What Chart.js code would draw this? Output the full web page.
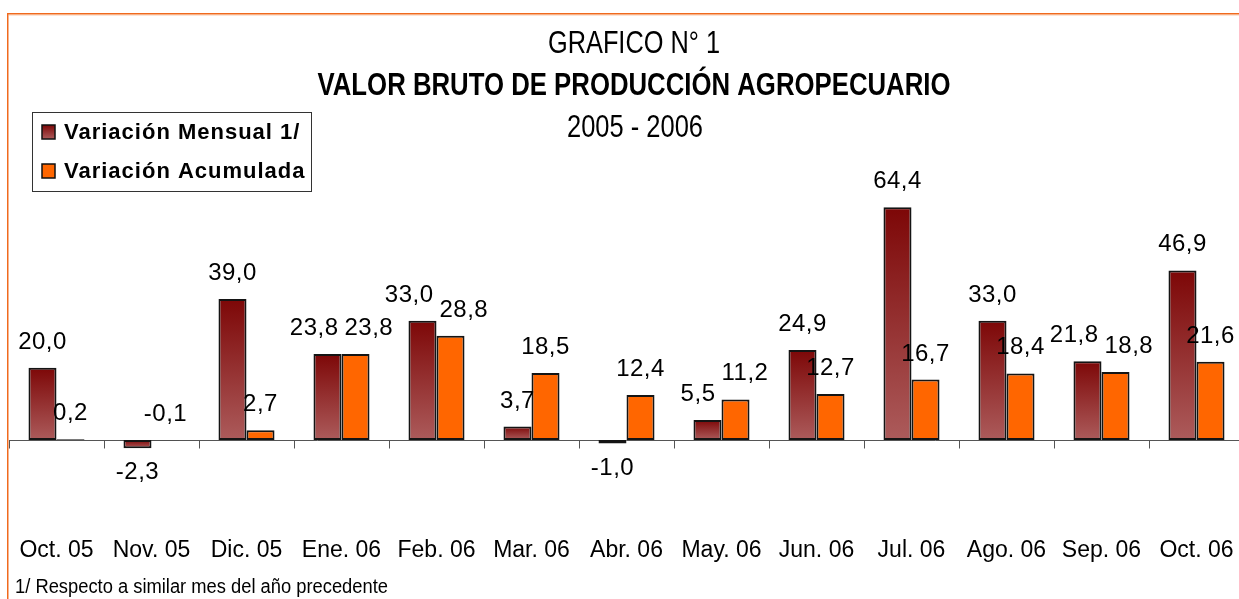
<!DOCTYPE html>
<html>
<head>
<meta charset="utf-8">
<script src="https://cdn.jsdelivr.net/npm/chart.js"></script>
<style>
  html, body { margin: 0; padding: 0; background: #fff; overflow: hidden; }
  #wrap { position: relative; width: 1239px; height: 599px; overflow: hidden; }
  #chart { position: absolute; left: 0; top: 0; }
</style>
</head>
<body>
<div id="wrap"><canvas id="chart" width="1260" height="599"></canvas></div>
<script>
const categories = ['Oct. 05', 'Nov. 05', 'Dic. 05', 'Ene. 06', 'Feb. 06', 'Mar. 06', 'Abr. 06',
                    'May. 06', 'Jun. 06', 'Jul. 06', 'Ago. 06', 'Sep. 06', 'Oct. 06'];
const variacionMensual = [20.0, -2.3, 39.0, 23.8, 33.0, 3.7, -1.0, 5.5, 24.9, 64.4, 33.0, 21.8, 46.9];
const variacionAcumulada = [0.2, -0.1, 2.7, 23.8, 28.8, 18.5, 12.4, 11.2, 12.7, 16.7, 18.4, 18.8, 21.6];
const seriesNames = ['Variación Mensual 1/', 'Variación Acumulada'];
const titleLines = ['GRAFICO N° 1', 'VALOR BRUTO DE PRODUCCIÓN AGROPECUARIO', '2005 - 2006'];
const footnote = '1/ Respecto a similar mes del año precedente';

const FONT = '"Liberation Sans", Arial, sans-serif';
const ORANGE = '#ff6600';
const DARK_TOP = '#7d0707';
const DARK_BOTTOM = '#ac5b5b';

function fmt(v) {
    return v.toFixed(1).replace('.', ',');
}

function darkGradient(ctx, top, bottom) {
    const g = ctx.createLinearGradient(0, top, 0, bottom + 0.01);
    g.addColorStop(0, DARK_TOP);
    g.addColorStop(1, DARK_BOTTOM);
    return g;
}

// vertical gradient for the monthly bars, dark at the top of each bar
function mensualFill(c) {
    const chart = c.chart;
    const y = chart.scales && chart.scales.y;
    if (!y || c.raw === undefined) return DARK_BOTTOM;
    const top = y.getPixelForValue(Math.max(c.raw, 0));
    const bottom = y.getPixelForValue(Math.min(c.raw, 0));
    if (!isFinite(top) || !isFinite(bottom)) return DARK_BOTTOM;
    return darkGradient(chart.ctx, top, bottom);
}

// draw text squeezed horizontally so it fits a given width (narrow font look)
function narrowText(ctx, text, font, x, baseline, width, align) {
    ctx.font = font;
    const w = ctx.measureText(text).width;
    const k = width / w;
    ctx.save();
    ctx.translate(x, baseline);
    ctx.scale(k, 1);
    ctx.textAlign = align;
    ctx.textBaseline = 'alphabetic';
    ctx.fillText(text, 0, 0);
    ctx.restore();
}

const decor = {
    id: 'decor',
    beforeDatasetsDraw(chart) {
        const { ctx, chartArea, scales: { x, y } } = chart;
        const y0 = Math.round(y.getPixelForValue(0)) + 0.5;
        const step = x.getPixelForValue(1) - x.getPixelForValue(0);
        ctx.save();
        ctx.strokeStyle = '#555';
        ctx.lineWidth = 1;
        ctx.beginPath();
        ctx.moveTo(chartArea.left, y0);
        ctx.lineTo(chartArea.right, y0);
        for (let i = 0; i <= categories.length; i++) {
            const px = Math.round(x.getPixelForValue(i) - step / 2) + 0.5;
            ctx.moveTo(px, y0);
            ctx.lineTo(px, y0 + 8);
        }
        ctx.stroke();
        ctx.restore();
    },
    afterDatasetsDraw(chart) {
        const { ctx } = chart;
        ctx.save();
        ctx.font = '24px ' + FONT;
        if ('letterSpacing' in ctx) ctx.letterSpacing = '0.5px';
        ctx.fillStyle = '#000';
        ctx.textAlign = 'center';
        ctx.textBaseline = 'alphabetic';
        for (let i = 0; i < categories.length; i++) {
            const items = [0, 1].map(d => {
                const bar = chart.getDatasetMeta(d).data[i];
                const v = chart.data.datasets[d].data[i];
                const text = fmt(v);
                const w = ctx.measureText(text).width;
                const below = v <= -0.5;
                const baseline = below ? Math.max(bar.y, bar.base) + 31 : Math.min(bar.y, bar.base) - 19;
                return { text, cx: bar.x, w, baseline };
            });
            const [a, b] = items;
            const overlap = (a.cx + a.w / 2 + 6) - (b.cx - b.w / 2);
            if (Math.abs(a.baseline - b.baseline) < 22 && overlap > 0) {
                a.cx -= overlap / 2;
                b.cx += overlap / 2;
            }
            items.forEach(it => ctx.fillText(it.text, it.cx, it.baseline));
        }
        ctx.restore();
    },
    afterDraw(chart) {
        const { ctx } = chart;
        ctx.save();
        // orange frame
        ctx.fillStyle = '#f06a1e';
        ctx.fillRect(7, 13, chart.width, 1.5);
        ctx.fillRect(7, 13, 1.5, chart.height);
        ctx.fillStyle = 'rgba(250,170,120,0.6)';
        ctx.fillRect(8.5, 14.5, chart.width, 1);

        // titles
        ctx.fillStyle = '#000';
        narrowText(ctx, titleLines[0], '32px ' + FONT, 634, 53, 172, 'center');
        narrowText(ctx, titleLines[1], 'bold 32px ' + FONT, 634, 95, 633, 'center');
        narrowText(ctx, titleLines[2], '32px ' + FONT, 635, 137, 136, 'center');

        // footnote
        narrowText(ctx, footnote, '20px ' + FONT, 15, 593, 373, 'left');

        // legend box
        ctx.fillStyle = '#fff';
        ctx.fillRect(32, 112, 280, 80);
        ctx.strokeStyle = '#333';
        ctx.lineWidth = 1;
        ctx.strokeRect(32.5, 112.5, 279, 79);
        const rows = [125, 164];
        ctx.font = 'bold 22px ' + FONT;
        if ('letterSpacing' in ctx) ctx.letterSpacing = '1px';
        ctx.textAlign = 'left';
        ctx.textBaseline = 'alphabetic';
        rows.forEach((top, i) => {
            ctx.fillStyle = i === 0 ? darkGradient(ctx, top, top + 14) : ORANGE;
            ctx.fillRect(42, top, 13, 14);
            ctx.strokeStyle = '#111';
            ctx.lineWidth = 1.5;
            ctx.strokeRect(42, top, 13, 14);
            ctx.fillStyle = '#000';
            ctx.fillText(seriesNames[i], 64, top + 14);
        });
        ctx.restore();
    }
};

new Chart(document.getElementById('chart'), {
    type: 'bar',
    data: {
        labels: categories,
        datasets: [
            {
                label: seriesNames[0],
                data: variacionMensual,
                backgroundColor: mensualFill,
                borderColor: '#141414',
                borderWidth: 2,
                borderSkipped: false
            },
            {
                label: seriesNames[1],
                data: variacionAcumulada,
                backgroundColor: ORANGE,
                borderColor: '#141414',
                borderWidth: 2,
                borderSkipped: false
            }
        ]
    },
    options: {
        responsive: false,
        animation: false,
        devicePixelRatio: 1,
        layout: { padding: { top: 187, left: 9, right: 16, bottom: 18 } },
        datasets: { bar: { categoryPercentage: 0.59, barPercentage: 1 } },
        plugins: {
            legend: { display: false },
            title: { display: false },
            tooltip: { enabled: false }
        },
        scales: {
            x: {
                grid: { display: false, drawTicks: false },
                border: { display: false },
                ticks: {
                    color: '#000',
                    padding: 17,
                    maxRotation: 0,
                    autoSkip: false,
                    font: { family: FONT, size: 23 }
                }
            },
            y: {
                display: false,
                min: -22,
                max: 70
            }
        }
    },
    plugins: [decor]
});
</script>
</body>
</html>
